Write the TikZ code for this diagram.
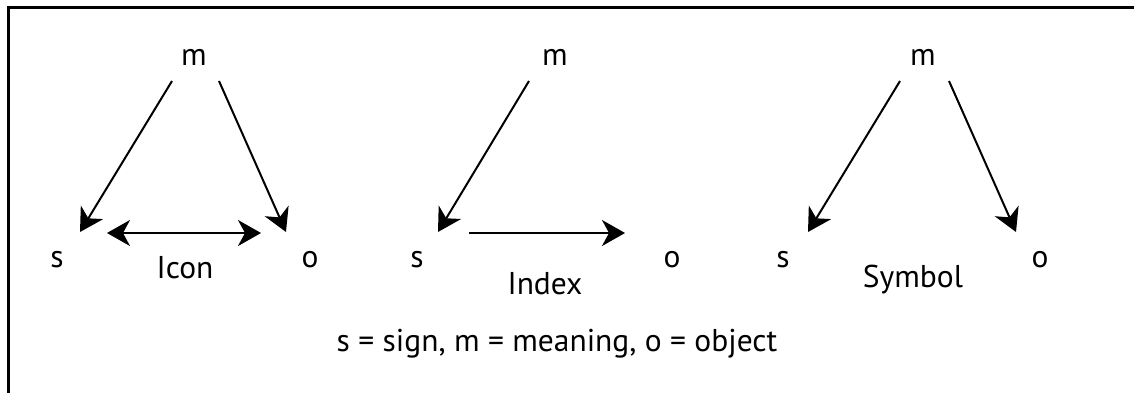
\documentclass[tikz,border=0pt]{standalone}
\usepackage{fontspec}
\setmainfont{PT Sans}
\usetikzlibrary{arrows.meta,positioning,calc}

\begin{document}
\begin{tikzpicture}[x=1pt,y=-1pt,
      >={Stealth[length=23pt,width=26pt,inset=7pt]},
      lbl/.style={inner sep=0pt,font=\fontsize{31.5}{34}\selectfont},
      arr/.style={->,line width=2pt}]
    \useasboundingbox (0,0) rectangle (1134,392);
    \draw[line width=3pt] (8,420) -- (8,7) -- (1160,7);
    % icon
    \node[lbl] (m1) at (194,57) {m};
    \node[lbl] (s1) at (57,260) {s};
    \node[lbl] (o1) at (310,260) {o};
    \node[lbl] (icon) at (185,268) {Icon};
    \draw[arr] ([shift={(-22,24)}]m1.center) -- ([shift={(23,-28)}]s1.center);
    \draw[arr] ([shift={(25,24)}]m1.center) -- ([shift={(-24,-28)}]o1.center);
    \draw[arr,<->] ([shift={(50,-27)}]s1.center) -- ([shift={(-49,-27)}]o1.center);
    % index
    \node[lbl] (m2) at (555,57) {m};
    \node[lbl] (s2) at (417,260) {s};
    \node[lbl] (o2) at (672,260) {o};
    \node[lbl] (index) at (545,284) {Index};
    \draw[arr] ([shift={(-26,24)}]m2.center) -- ([shift={(21,-28)}]s2.center);
    \draw[arr] ([shift={(52,-27)}]s2.center) -- ([shift={(-47,-27)}]o2.center);
    % symbol
    \node[lbl] (m3) at (923,57) {m};
    \node[lbl] (s3) at (783,260) {s};
    \node[lbl] (o3) at (1040,260) {o};
    \node[lbl] (symbol) at (913,280) {Symbol};
    \draw[arr] ([shift={(-23,24)}]m3.center) -- ([shift={(25,-28)}]s3.center);
    \draw[arr] ([shift={(26,24)}]m3.center) -- ([shift={(-24,-28)}]o3.center);
    % key
    \node[lbl] (key) at (557,344) {s = sign, m = meaning, o = object};
  \end{tikzpicture}
\end{document}
